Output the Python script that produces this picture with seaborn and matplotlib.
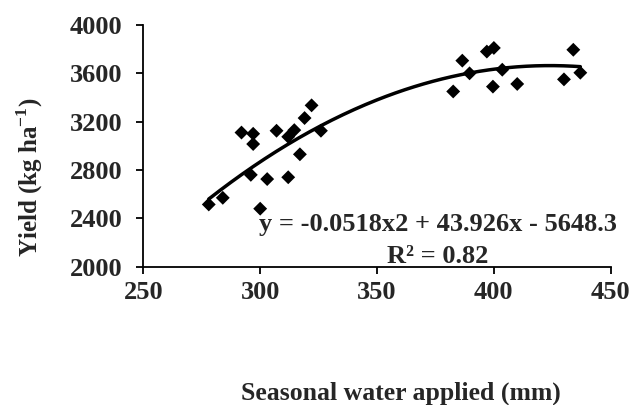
import numpy as np
import pandas as pd
import matplotlib
matplotlib.use('Agg')
import matplotlib.pyplot as plt
import seaborn as sns

# seasonal water applied (mm) and yield (kg/ha)
water = [278, 284, 300, 292, 297, 297, 307, 312, 314.6, 319, 322, 326, 317,
         296, 303, 312, 382.6, 386.5, 389.6, 397, 400, 399.6, 403.6, 410,
         430, 434, 437]
yield_kg = [2515, 2570, 2480, 3110, 3100, 3015, 3125, 3075, 3130, 3230, 3335,
            3125, 2930, 2760, 2725, 2740, 3450, 3705, 3600, 3780, 3810, 3490,
            3630, 3512, 3550, 3795, 3605]

# quadratic trend coefficients from the chart label
coef = [-0.0518, 43.926, -5648.3]
eq_text = 'y = -0.0518x2 + 43.926x - 5648.3'
r2_text = 'R² = 0.82'

x_ticks = [250, 300, 350, 400, 450]
y_ticks = [2000, 2400, 2800, 3200, 3600, 4000]

df = pd.DataFrame({'water': water, 'yield': yield_kg})
xs = np.linspace(min(water), max(water), 200)
trend = pd.DataFrame({'water': xs, 'yield': np.polyval(coef, xs)})

sns.set_style('ticks')
plt.rcParams['font.family'] = ['Liberation Serif', 'DejaVu Serif']
plt.rcParams['font.weight'] = 'bold'
plt.rcParams['mathtext.fontset'] = 'custom'
plt.rcParams['mathtext.rm'] = 'Liberation Serif:bold'
plt.rcParams['mathtext.bf'] = 'Liberation Serif:bold'

fig = plt.figure(figsize=(6.32, 4.05), dpi=100)
ax = fig.add_axes([0.2268, 0.3415, 0.7395, 0.5968])

sns.lineplot(data=trend, x='water', y='yield', ax=ax, color='black', linewidth=2.5)
sns.scatterplot(data=df, x='water', y='yield', ax=ax, marker='D', s=50,
                color='black', edgecolor='none', zorder=3)

ax.set_xlim(250, 450)
ax.set_ylim(2000, 4000)
ax.set_xticks(x_ticks)
ax.set_yticks(y_ticks)
ax.set_xlabel('')
ax.set_ylabel('')
ax.tick_params(labelsize=19, width=1.3, length=5, color='black')
ax.tick_params(axis='y', pad=10)
ax.tick_params(axis='x', pad=5)
for lab in ax.get_xticklabels() + ax.get_yticklabels():
    lab.set_fontweight('bold')
for side in ['top', 'right']:
    ax.spines[side].set_visible(False)
for side in ['left', 'bottom']:
    ax.spines[side].set_linewidth(1.3)
    ax.spines[side].set_color('black')

ax.text(376, 2345, eq_text, ha='center', va='center', fontsize=19, fontweight='bold')
ax.text(376, 2083, r2_text, ha='center', va='center', fontsize=19, fontweight='bold')

fig.text(401 / 632, 1 - 393 / 405, 'Seasonal water applied (mm)', ha='center',
         va='center', fontsize=18.5, fontweight='bold')
fig.text(30 / 632, 1 - 177 / 405, 'Yield (kg ha$^{-1}$)', ha='center',
         va='center', rotation=90, fontsize=18, fontweight='bold')

fig.savefig('out.png', dpi=100)
